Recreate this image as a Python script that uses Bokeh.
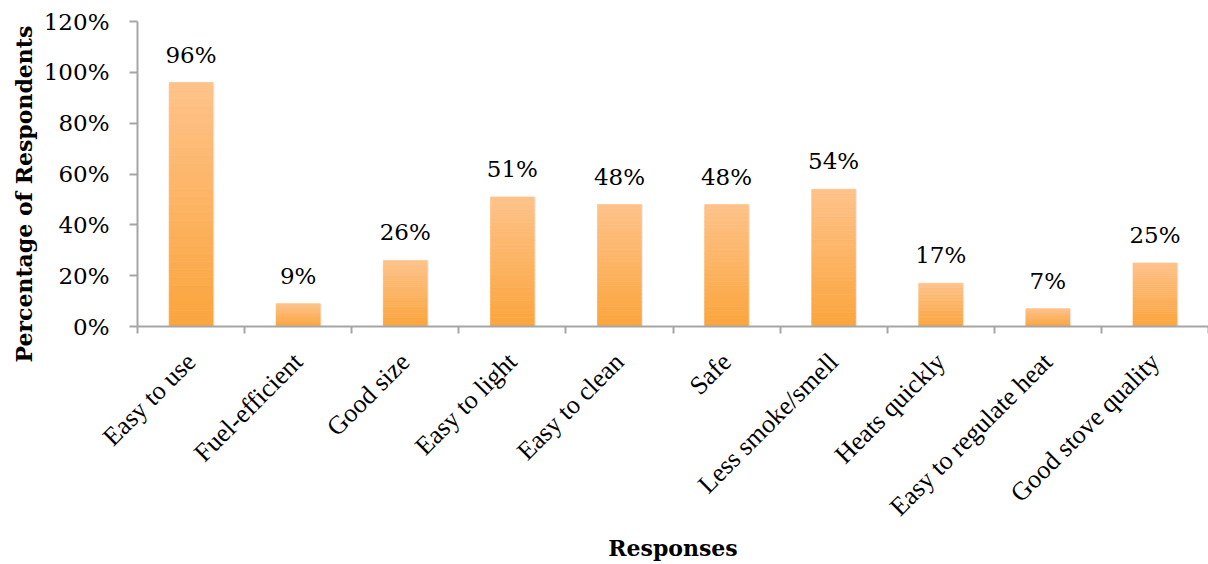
from bokeh.plotting import figure
from bokeh.models import Range1d, FixedTicker, PrintfTickFormatter, ColumnDataSource, Title
from bokeh.embed import file_html
from bokeh.resources import INLINE
from bokeh.core.properties import value

categories = ["Easy to use", "Fuel-efficient", "Good size", "Easy to light", "Easy to clean",
              "Safe", "Less smoke/smell", "Heats quickly", "Easy to regulate heat", "Good stove quality"]
values = [96, 9, 26, 51, 48, 48, 54, 17, 7, 25]
y_ticks = [0, 20, 40, 60, 80, 100, 120]

NUM_FONT = "DejaVu Serif"
CAT_FONT = "Liberation Serif"
AXIS_COL = "#A6A6A6"

p = figure(width=1208, height=564, output_backend="svg", toolbar_location=None,
           x_range=Range1d(0, len(categories)), y_range=Range1d(0, 120),
           min_border_left=137, min_border_top=21, min_border_bottom=238, min_border_right=0)
p.outline_line_color = None
p.grid.grid_line_color = None
p.background_fill_color = "white"
p.border_fill_color = "white"

xs = [i + 0.5 for i in range(len(categories))]
bar_w = 0.41

# subtle shadow
p.vbar(x=[x + 0.012 for x in xs], width=bar_w + 0.006, bottom=0, top=values,
       fill_color="#dcdcdc", fill_alpha=0.55, line_color=None)

# gradient bars (light at top, darker orange at bottom)
top_rgb = (254, 195, 138)
bot_rgb = (251, 164, 60)
N = 30
gx, gb, gt, gc = [], [], [], []
for x, v in zip(xs, values):
    for k in range(N):
        f = (k + 0.5) / N
        r = round(bot_rgb[0] + (top_rgb[0] - bot_rgb[0]) * f)
        g = round(bot_rgb[1] + (top_rgb[1] - bot_rgb[1]) * f)
        b = round(bot_rgb[2] + (top_rgb[2] - bot_rgb[2]) * f)
        gx.append(x)
        gb.append(v * k / N)
        gt.append(v * (k + 1) / N)
        gc.append("#%02x%02x%02x" % (r, g, b))
p.vbar(x=gx, width=bar_w, bottom=gb, top=gt, fill_color=gc, line_color=gc, line_width=0.6)

# value labels
src = ColumnDataSource(dict(x=xs, y=values, t=[f"{v}%" for v in values]))
p.text(x="x", y="y", text="t", source=src, text_align="center", text_baseline="alphabetic",
       y_offset=-28, text_font=value(NUM_FONT), text_font_size="23px", text_color="black")

# x axis
xa = p.xaxis[0]
xa.ticker = FixedTicker(ticks=xs, minor_ticks=list(range(len(categories) + 1)))
xa.major_label_overrides = {x: c for x, c in zip(xs, categories)}
xa.major_label_orientation = 0.785398
xa.major_tick_line_color = None
xa.major_tick_out = 0
xa.major_tick_in = 0
xa.minor_tick_out = 7
xa.minor_tick_in = 0
xa.minor_tick_line_color = AXIS_COL
xa.minor_tick_line_width = 2
xa.axis_line_color = AXIS_COL
xa.axis_line_width = 2
xa.major_label_text_font = CAT_FONT
xa.major_label_text_font_size = "26px"
xa.major_label_text_color = "black"
xa.major_label_standoff = 24
xa.axis_label = "Responses"
xa.axis_label_text_font = NUM_FONT
xa.axis_label_text_font_style = "bold"
xa.axis_label_text_font_size = "22px"
xa.axis_label_text_color = "black"
xa.axis_label_standoff = 0

# y axis
ya = p.yaxis[0]
ya.ticker = FixedTicker(ticks=y_ticks)
ya.formatter = PrintfTickFormatter(format="%d%%")
ya.major_tick_out = 8
ya.major_tick_in = 0
ya.minor_tick_line_color = None
ya.major_tick_line_color = AXIS_COL
ya.major_tick_line_width = 2
ya.axis_line_color = AXIS_COL
ya.axis_line_width = 2
ya.major_label_text_font = NUM_FONT
ya.major_label_text_font_size = "23px"
ya.major_label_text_color = "black"
ya.major_label_standoff = 20

# y axis title, shifted down like the reference
ytitle = Title(text="Percentage of Respondents", align="left", offset=-36,
               vertical_align="middle", standoff=6,
               text_font=NUM_FONT, text_font_style="bold", text_font_size="22px",
               text_color="black")
p.add_layout(ytitle, "left")

open("out.html", "w").write(file_html(p, INLINE))
